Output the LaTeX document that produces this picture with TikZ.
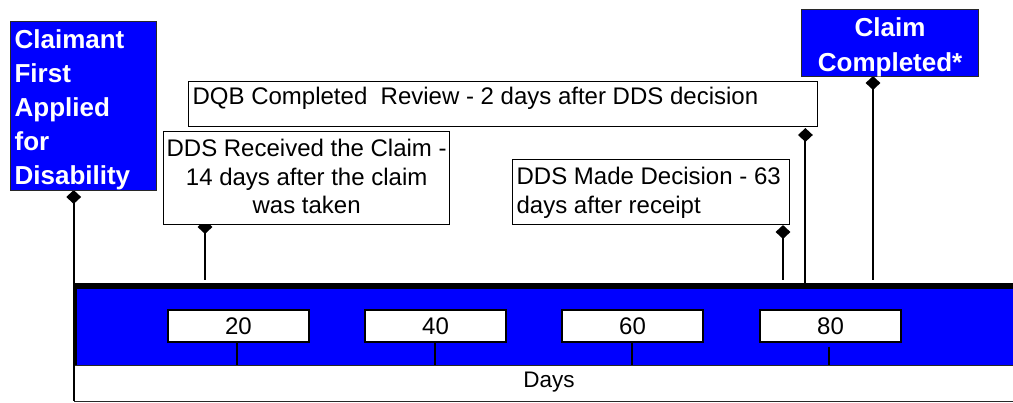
\documentclass[tikz,border=0pt]{standalone}
\usepackage{fontspec}
\setmainfont{Liberation Sans}
\usetikzlibrary{shapes.geometric}
\definecolor{bandblue}{RGB}{0,0,255}
\definecolor{edgegray}{RGB}{40,40,40}

% fixed-size text block: width, height, first-baseline offset, alignment, lines
\newcommand{\tlblock}[5]{\parbox[c][#2][t]{#1}{#4\rule{0pt}{#3}#5}}

\begin{document}
\begin{tikzpicture}[x=1pt,y=-1pt,
  bluebox/.style={draw=edgegray, line width=1.2pt, fill=bandblue, text=white,
    inner xsep=4pt, inner ysep=0pt, anchor=north west,
    font=\bfseries\fontsize{26}{34}\selectfont},
  notebox/.style={draw=black, line width=1.3pt, fill=white,
    inner xsep=4pt, inner ysep=0pt, anchor=north west,
    font=\fontsize{24}{28.5}\selectfont},
  tickbox/.style={draw=black, line width=1.3pt, fill=white,
    minimum width=141pt, minimum height=32pt, inner sep=0pt,
    font=\fontsize{24}{28}\selectfont},
  pin/.style={diamond, fill=black, inner sep=0pt,
    minimum width=15pt, minimum height=14pt},
  stem/.style={line width=2pt},
  tick/.style={line width=1.5pt}]
\useasboundingbox (0,0) rectangle (1013,403);

% time band
\fill[bandblue] (75,286) rectangle (1013,365);
\draw[line width=5.6pt] (73.3,286.2) -- (1013,286.2);
\draw[line width=4pt] (75.3,284) -- (75.3,365);
\node[draw=edgegray, line width=1pt, fill=white, anchor=north west,
  minimum width=950pt, minimum height=36pt, inner sep=0pt,
  font=\fontsize{22.5}{26}\selectfont, text height=15pt, text depth=6pt]
  (days) at (73.5,365) {Days};
\coordinate (bandbot) at (0,365);

% scale marks
\node[tickbox] (t20) at (238.5,326) {20};
\node[tickbox] (t40) at (435.5,326) {40};
\node[tickbox] (t60) at (632.5,326) {60};
\node[tickbox] (t80) at (830.5,326) {80};
\draw[tick] ([xshift=-1.5pt]t20.south) -- ([xshift=-1.5pt]t20.south |- bandbot);
\draw[tick] ([xshift=-0.5pt]t40.south) -- ([xshift=-0.5pt]t40.south |- bandbot);
\draw[tick] ([xshift=-0.5pt]t60.south) -- ([xshift=-0.5pt]t60.south |- bandbot);
\draw[tick] ([xshift=-1.5pt,yshift=-4pt]t80.south) -- ([xshift=-1.5pt]t80.south |- bandbot);

% event markers
\node[pin] (pinA) at (73.7,197) {};
\node[pin] (pinB) at (205,227) {};
\node[pin] (pinC) at (783,232) {};
\node[pin] (pinD) at (805.4,135) {};
\node[pin] (pinE) at (873,83) {};
\coordinate (endA) at (73.7,401);
\coordinate (endB) at (205,280);
\coordinate (endC) at (783,280);
\coordinate (endD) at (805.4,284);
\coordinate (endE) at (873,280);
\draw[stem] (pinA.center) -- (endA);
\draw[stem] (pinB.center) -- (endB);
\draw[stem] (pinC.center) -- (endC);
\draw[stem] (pinD.center) -- (endD);
\draw[stem] (pinE.center) -- (endE);

% event labels
\node[bluebox] (claimant) at (10,21)
  {\tlblock{138pt}{169pt}{26.7pt}{\raggedright}{Claimant\\First\\Applied\\for\\Disability}};
\node[bluebox, inner xsep=0pt] (completed) at (801,9)
  {\tlblock{177pt}{67pt}{27pt}{\centering\baselineskip=35pt}{Claim\\Completed*}};
\node[notebox] (dqb) at (188,81)
  {\tlblock{621pt}{45pt}{23.3pt}{\raggedright}{DQB Completed~ Review - 2 days after DDS decision}};
\node[notebox, inner xsep=0pt] (received) at (163,131)
  {\tlblock{286pt}{93pt}{25pt}{\centering}{DDS Received the Claim -\\14 days after the claim\\was taken}};
\node[notebox] (decision) at (512,159)
  {\tlblock{269pt}{65pt}{25pt}{\raggedright\baselineskip=28.7pt}{DDS Made Decision - 63\\days after receipt}};
\end{tikzpicture}
\end{document}
